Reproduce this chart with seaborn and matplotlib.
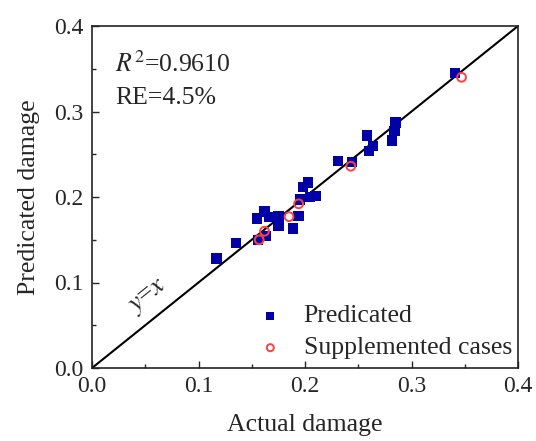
import matplotlib
matplotlib.use("Agg")
import matplotlib.pyplot as plt
import seaborn as sns
import pandas as pd
import numpy as np
from matplotlib.ticker import MultipleLocator

pred_actual = [0.117, 0.135, 0.156, 0.163, 0.155, 0.162, 0.166, 0.170, 0.175, 0.175,
               0.189, 0.194, 0.195, 0.198, 0.203, 0.205, 0.210, 0.231, 0.244, 0.258,
               0.260, 0.264, 0.282, 0.284, 0.285, 0.341]
pred_value = [0.128, 0.146, 0.150, 0.154, 0.175, 0.183, 0.177, 0.177, 0.178, 0.166,
              0.163, 0.178, 0.197, 0.212, 0.217, 0.200, 0.201, 0.242, 0.241, 0.272,
              0.254, 0.260, 0.266, 0.277, 0.287, 0.345]
supp_actual = [0.157, 0.162, 0.185, 0.194, 0.243, 0.347]
supp_value = [0.150, 0.160, 0.177, 0.192, 0.236, 0.340]
ticks = [0.0, 0.1, 0.2, 0.3, 0.4]

sns.set_style("ticks")
plt.rcParams['font.family'] = ['Liberation Serif', 'DejaVu Serif']
plt.rcParams['mathtext.fontset'] = 'stix'

fig = plt.figure(figsize=(5.36, 4.41), dpi=100)
ax = fig.add_axes([92/536, 1-368/441, 426/536, 342/441])

df_p = pd.DataFrame({"x": pred_actual, "y": pred_value})
df_s = pd.DataFrame({"x": supp_actual, "y": supp_value})

ax.plot([0, 0.4], [0, 0.4], color='black', lw=1.5, zorder=1)
sns.scatterplot(data=df_p, x="x", y="y", ax=ax, marker='s', s=55, color='#0000a6',
                edgecolor='none', label='Predicated', zorder=2)
sns.scatterplot(data=df_s, x="x", y="y", ax=ax, marker='o', s=40, facecolor='none',
                edgecolor='#ff4040', linewidth=1.4, label='Supplemented cases', zorder=3)

ax.set_xlim(0, 0.4)
ax.set_ylim(0, 0.4)
ax.set_xticks(ticks)
ax.set_yticks(ticks)
ax.set_xticklabels([f"{t:.1f}" for t in ticks])
ax.set_yticklabels([f"{t:.1f}" for t in ticks])
ax.xaxis.set_minor_locator(MultipleLocator(0.05))
ax.yaxis.set_minor_locator(MultipleLocator(0.05))
ax.tick_params(which='major', direction='in', length=5, width=1, labelsize=17, pad=6)
ax.tick_params(which='minor', direction='in', length=3, width=1)
ax.tick_params(top=False, right=False, which='both')
for sp in ax.spines.values():
    sp.set_visible(True)
    sp.set_linewidth(1.2)
    sp.set_color('#222222')

ax.set_xlabel("Actual damage", fontsize=18.5, labelpad=12)
ax.set_ylabel("Predicated damage", fontsize=18.5, labelpad=10)

ax.text(0.022, 0.355, r"$R^{2}$=0.9610", fontsize=18.5, ha='left', va='center')
ax.text(0.022, 0.316, "RE=4.5%", fontsize=18.5, ha='left', va='center')
ax.text(0.053, 0.084, r"$y$=$x$", fontsize=19.5, rotation=38.8, ha='center', va='center',
        rotation_mode='anchor')

leg = ax.legend(loc='lower right', frameon=False, fontsize=18.5, handletextpad=0.7,
                handlelength=1.2, borderaxespad=0.0, labelspacing=0.35, markerscale=0.8,
                bbox_to_anchor=(1.01, -0.005))

fig.savefig("out.png", dpi=100)
